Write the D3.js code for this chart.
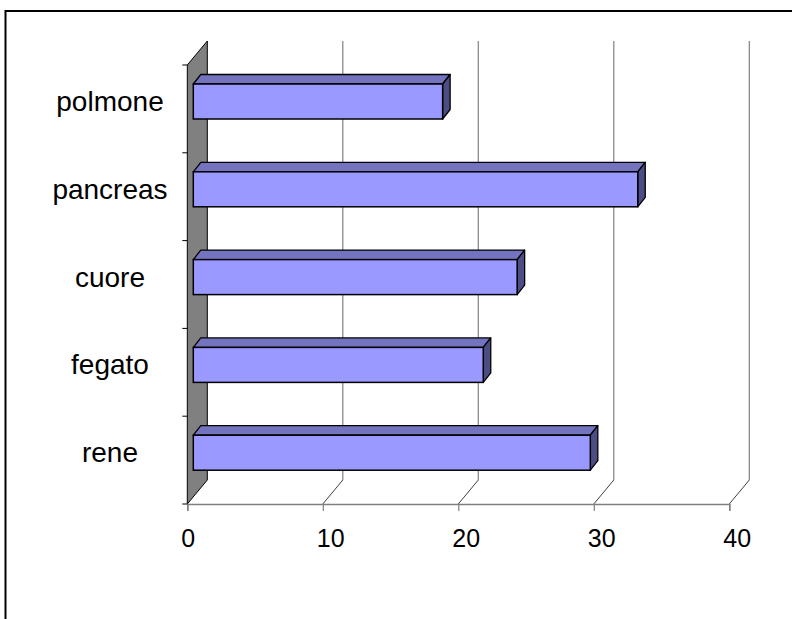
<!DOCTYPE html>
<html>
<head>
<meta charset="utf-8">
<script src="https://cdn.jsdelivr.net/npm/d3@7"></script>
<style>
  html, body { margin: 0; padding: 0; background: #ffffff; }
  svg { display: block; }
  text { font-family: Arial, "Liberation Sans", sans-serif; fill: #000; }
</style>
</head>
<body>
<svg id="chart" width="792" height="619"></svg>
<script>
// ---- Data ----
const categories = ["polmone", "pancreas", "cuore", "fegato", "rene"]; // top to bottom
const values = [18.4, 32.8, 23.9, 21.4, 29.3];
const xTicks = [0, 10, 20, 30, 40];

// ---- Layout ----
const svg = d3.select("#chart");
const depth = { dx: 20, dy: -24 };          // wall / floor depth
const barFront = { dx: 6, dy: -7.4 };       // bar front plane offset
const barDepth = { dx: 7.5, dy: -9.5 };     // bar thickness in depth
const barH = 35;

const x = d3.scaleLinear().domain([0, 40]).range([187.3, 729.3]);
const y = d3.scaleBand().domain(categories).range([65, 504]).padding(0);

const frontTop = 65, floorY = 504;

// outer border
svg.append("rect")
  .attr("x", 5.5).attr("y", 11).attr("width", 820).attr("height", 700)
  .attr("fill", "none").attr("stroke", "#000").attr("stroke-width", 2);

// left wall (gray, 3D)
const x0 = x(0);
svg.append("polygon")
  .attr("points", [
    [x0, frontTop], [x0 + depth.dx, frontTop + depth.dy],
    [x0 + depth.dx, floorY + depth.dy], [x0, floorY]
  ].map(p => p.join(",")).join(" "))
  .attr("fill", "#808080").attr("stroke", "#000").attr("stroke-width", 1);

// back wall gridlines
svg.append("g").selectAll("line").data(xTicks.filter(d => d > 0)).join("line")
  .attr("x1", d => x(d) + depth.dx).attr("x2", d => x(d) + depth.dx)
  .attr("y1", frontTop + depth.dy).attr("y2", floorY + depth.dy)
  .attr("stroke", "#808080").attr("stroke-width", 1.2);

// floor diagonals
svg.append("g").selectAll("line").data(xTicks.filter(d => d > 0)).join("line")
  .attr("x1", d => x(d)).attr("y1", floorY)
  .attr("x2", d => x(d) + depth.dx).attr("y2", floorY + depth.dy)
  .attr("stroke", "#404040").attr("stroke-width", 1);

// x axis (front floor edge)
const xAxis = d3.axisBottom(x).tickValues(xTicks).tickSize(7).tickFormat("");
const gx = svg.append("g").attr("transform", `translate(0,${floorY})`).call(xAxis);
gx.select(".domain").attr("stroke", "#808080").attr("stroke-width", 1.5);
gx.selectAll(".tick line").attr("stroke", "#808080").attr("stroke-width", 1.2);

// x tick labels
svg.append("g").selectAll("text").data(xTicks).join("text")
  .attr("x", d => x(d) - 6).attr("y", 547)
  .attr("text-anchor", "start")
  .style("font-size", "25px")
  .text(d => d);

// y axis (category ticks at wall front edge)
const yTickPos = categories.map(c => y(c)).concat([floorY]);
svg.append("g").selectAll("line").data(yTickPos).join("line")
  .attr("x1", x0 - 5).attr("x2", x0)
  .attr("y1", d => d).attr("y2", d => d)
  .attr("stroke", "#000").attr("stroke-width", 1);

// category labels
svg.append("g").selectAll("text").data(categories).join("text")
  .attr("x", 110)
  .attr("y", d => y(d) + y.bandwidth() / 2 + 2)
  .attr("text-anchor", "middle")
  .style("font-size", "28px")
  .text(d => d);

// bars
const data = categories.map((c, i) => ({ c, v: values[i] }));
const bars = svg.append("g").selectAll("g").data(data).join("g");
function geom(d) {
  const xl = x(0) + barFront.dx;
  const xr = x(d.v) + barFront.dx;
  const top = y(d.c) + y.bandwidth() / 2 - barH / 2 + barFront.dy;
  const bot = top + barH;
  return { xl, xr, top, bot };
}
const pts = a => a.map(p => p.join(",")).join(" ");
// top face
bars.append("polygon")
  .attr("points", d => { const g = geom(d); return pts([
    [g.xl, g.top], [g.xl + barDepth.dx, g.top + barDepth.dy],
    [g.xr + barDepth.dx, g.top + barDepth.dy], [g.xr, g.top]]); })
  .attr("fill", "#7373C0").attr("stroke", "#000").attr("stroke-width", 1.3)
  .attr("stroke-linejoin", "round");
// side face
bars.append("polygon")
  .attr("points", d => { const g = geom(d); return pts([
    [g.xr, g.top], [g.xr + barDepth.dx, g.top + barDepth.dy],
    [g.xr + barDepth.dx, g.bot + barDepth.dy], [g.xr, g.bot]]); })
  .attr("fill", "#4D4D85").attr("stroke", "#000").attr("stroke-width", 1.3)
  .attr("stroke-linejoin", "round");
// front face
bars.append("rect")
  .attr("x", d => geom(d).xl).attr("y", d => geom(d).top)
  .attr("width", d => geom(d).xr - geom(d).xl).attr("height", barH)
  .attr("fill", "#9999FF").attr("stroke", "#000").attr("stroke-width", 1.5);
</script>
</body>
</html>
